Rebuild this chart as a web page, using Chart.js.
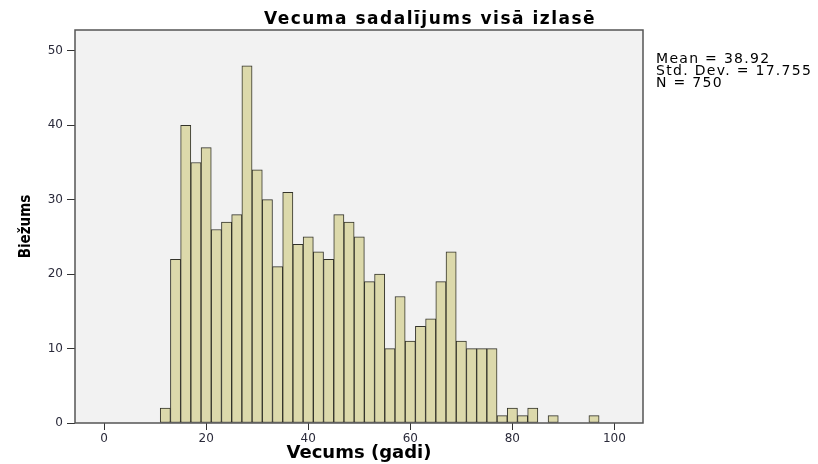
<!DOCTYPE html>
<html>
<head>
<meta charset="utf-8">
<script src="https://cdn.jsdelivr.net/npm/chart.js@4.4.1/dist/chart.umd.min.js"></script>
<style>
  html, body { margin: 0; padding: 0; background: #fff; }
  #wrap { width: 818px; height: 464px; }
</style>
</head>
<body>
<div id="wrap"><canvas id="chart1" width="818" height="464"></canvas></div>
<script>
// histogram bins (2-year width), centre of each bin
const binCenters = [12, 14, 16, 18, 20, 22, 24, 26, 28, 30, 32, 34, 36, 38, 40, 42, 44,
  46, 48, 50, 52, 54, 56, 58, 60, 62, 64, 66, 68, 70, 72, 74, 76, 78, 80, 82, 84,
  86, 88, 90, 92, 94, 96];
const counts = [2, 22, 40, 35, 37, 26, 27, 28, 48, 34, 30, 21, 31, 24, 25, 23, 22,
  28, 27, 25, 19, 20, 10, 17, 11, 13, 14, 19, 23, 11, 10, 10, 10, 1, 2, 1, 2,
  0, 1, 0, 0, 0, 1];
const xTicks = [0, 20, 40, 60, 80, 100];
const yTicks = [0, 10, 20, 30, 40, 50];
const titulo = 'Vecuma sadalījums visā izlasē';
const xTitulo = 'Vecums (gadi)';
const yTitulo = 'Biežums';
const stats = ['Mean = 38.92', 'Std. Dev. = 17.755', 'N = 750'];

// fondo gris y marco del área del gráfico, textos extra
const marco = {
  id: 'marco',
  beforeDatasetsDraw(chart) {
    const { ctx, chartArea: a } = chart;
    ctx.save();
    ctx.fillStyle = '#f2f2f2';
    ctx.fillRect(a.left, a.top, a.right - a.left, a.bottom - a.top);
    ctx.restore();
  },
  afterDatasetsDraw(chart) {
    const { ctx, chartArea: a } = chart;
    ctx.save();
    ctx.strokeStyle = '#555';
    ctx.lineWidth = 1.5;
    ctx.strokeRect(a.left, a.top, a.right - a.left, a.bottom - a.top);
    ctx.restore();
  },
  afterDraw(chart) {
    const { ctx } = chart;
    ctx.save();
    ctx.fillStyle = '#000';
    ctx.font = 'bold 17px "DejaVu Sans"';
    ctx.letterSpacing = '1.5px';
    ctx.textAlign = 'center';
    ctx.textBaseline = 'alphabetic';
    ctx.fillText(titulo, 430, 24);
    ctx.font = '14px "DejaVu Sans"';
    ctx.letterSpacing = '1.3px';
    ctx.textAlign = 'left';
    stats.forEach((s, i) => ctx.fillText(s, 656, 63 + i * 12));
    ctx.restore();
  }
};

const ctx = document.getElementById('chart1');
new Chart(ctx, {
  type: 'bar',
  data: {
    datasets: [{
      data: binCenters.map((x, i) => ({ x: x, y: counts[i] === 0 ? null : counts[i] })),
      backgroundColor: '#dcd9ab',
      borderColor: '#33332a',
      borderWidth: 1,
      borderSkipped: false,
      barPercentage: 1,
      categoryPercentage: 1
    }]
  },
  options: {
    responsive: false,
    animation: false,
    layout: { padding: { top: 30, right: 175, bottom: 0, left: 0 } },
    plugins: { legend: { display: false }, title: { display: false }, tooltip: { enabled: false } },
    scales: {
      x: {
        type: 'linear',
        offset: false,
        min: -5.7,
        max: 105.6,
        afterBuildTicks: s => { s.ticks = xTicks.map(v => ({ value: v })); },
        afterFit: s => { s.height = 41; },
        grid: { offset: false, drawOnChartArea: false, drawTicks: true, tickLength: 7, color: '#333' },
        border: { display: false },
        ticks: { padding: 2, color: '#2a2a3a', font: { family: 'DejaVu Sans', size: 12 }, maxRotation: 0 },
        title: { display: true, text: xTitulo, color: '#000', font: { family: 'DejaVu Sans', size: 18, weight: 'bold' }, padding: { top: 0, bottom: 0 } }
      },
      y: {
        min: 0,
        max: 52.8,
        afterBuildTicks: s => { s.ticks = yTicks.map(v => ({ value: v })); },
        afterFit: s => { s.width = 75; },
        grid: { drawOnChartArea: false, drawTicks: true, tickLength: 8, color: '#333' },
        border: { display: false },
        ticks: { padding: 4, color: '#2a2a3a', font: { family: 'DejaVu Sans', size: 12 } },
        title: { display: true, text: yTitulo, color: '#000', font: { family: 'DejaVu Sans Condensed', size: 15, weight: 'bold' }, padding: { top: 17, bottom: 0 } }
      }
    }
  },
  plugins: [marco]
});
</script>
</body>
</html>
